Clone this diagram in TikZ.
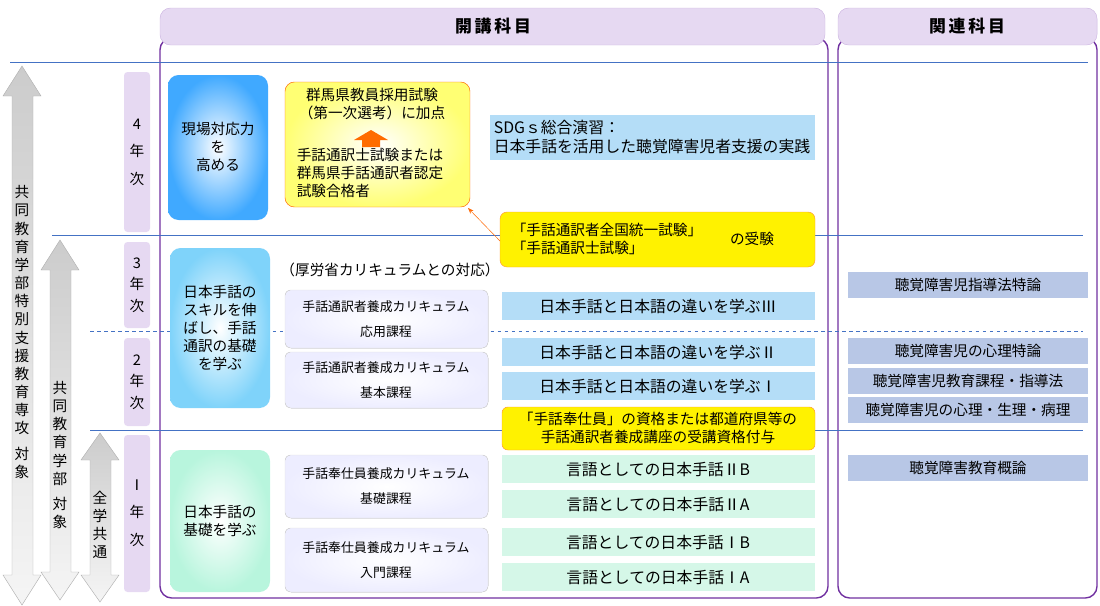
\documentclass[tikz,border=0pt]{standalone}
\usepackage{fontspec}
\setmainfont{Noto Sans CJK JP}
\usetikzlibrary{arrows.meta}
\definecolor{pur}{HTML}{7030A0}
\definecolor{lav}{HTML}{E6D9F2}
\definecolor{hl}{HTML}{4472C4}
\definecolor{bbar}{HTML}{B4DDF7}
\definecolor{gbar}{HTML}{D5F7E8}
\definecolor{rbar}{HTML}{B8C7E6}
\definecolor{lcy}{HTML}{7FD3FA}
\definecolor{lgr}{HTML}{B8F5DD}
\begin{document}
\begin{tikzpicture}[x=0.03cm,y=-0.03cm,
  hdr/.style={fill=lav,draw=lav!80!pur,rounded corners=9pt},
  yr/.style={fill=lav,draw=none,rounded corners=3pt},
  txt/.style={align=center,font=\fontsize{12.5}{15.5}\selectfont,inner sep=0pt},
  bt/.style={align=center,font=\fontsize{13.5}{16}\selectfont,inner sep=0pt},
  cur/.style={draw=gray!25,rounded corners=5pt,inner color=white,outer color=blue!7},
  ct/.style={align=center,font=\fontsize{11}{13}\selectfont,inner sep=0pt},
  hline/.style={hl,line width=0.6pt},
  arr/.style={top color=gray!40,bottom color=gray!8,draw=gray!60}]
\useasboundingbox (0,0) rectangle (1100,605);
% frames
\draw[pur,line width=1.2pt,rounded corners=10pt] (160,38) rectangle (828,598);
\draw[pur,line width=1.2pt,rounded corners=10pt] (838,38) rectangle (1097,598);
\filldraw[hdr] (838,8) rectangle (1097,45);
\filldraw[hdr] (160,8) rectangle (825,45);
\node[font=\Large\bfseries] (h1) at (493,26) {開\,講\,科\,目};
\node[font=\Large\bfseries] (h2) at (967,26) {関\,連\,科\,目};
% horizontal lines
\coordinate (l1a) at (10,62); \coordinate (l1b) at (1088,62);
\draw[hline] (l1a) -- (l1b);
\coordinate (l2a) at (52,235); \coordinate (l2b) at (1083,235);
\draw[hline] (l2a) -- (l2b);
\coordinate (l3a) at (90,331); \coordinate (l3b) at (1083,331);
\draw[hline,dashed] (l3a) -- (l3b);
\coordinate (l4a) at (90,430); \coordinate (l4b) at (1083,430);
\draw[hline] (l4a) -- (l4b);
% left arrows
\shade[arr] (12,575)--(12,96)--(3,96)--(22,66)--(41,96)--(33,96)--(33,575)--(41,575)--(22,605)--(3,575)--cycle;
\shade[arr] (50,572)--(50,270)--(41,270)--(60,240)--(79,270)--(71,270)--(71,572)--(79,572)--(60,600)--(41,572)--cycle;
\shade[arr] (90,575)--(90,460)--(81,460)--(100,433)--(119,460)--(111,460)--(111,575)--(119,575)--(100,602)--(81,575)--cycle;
\node[txt] (t1) at (22,332) {共\\同\\教\\育\\学\\部\\特\\別\\支\\援\\教\\育\\専\\攻\\[6pt]対\\象};
\node[txt] (t2) at (60,455) {共\\同\\教\\育\\学\\部\\[6pt]対\\象};
\node[txt] (t3) at (100,525) {全\\学\\共\\通};
% year pills
\filldraw[yr] (124,72) rectangle (150,232);
\filldraw[yr] (124,242) rectangle (150,328);
\filldraw[yr] (124,338) rectangle (150,426);
\filldraw[yr] (124,435) rectangle (150,592);
\node[txt] (y4) at (137,152) {4\\[8pt]年\\[8pt]次};
\node[txt] (y3) at (137,285) {3\\[3pt]年\\[3pt]次};
\node[txt] (y2) at (137,382) {2\\[3pt]年\\[3pt]次};
\node[txt] (y1) at (137,513) {Ⅰ\\[8pt]年\\[8pt]次};
% big boxes
\shade[rounded corners=9pt,inner color=white,outer color=blue!45!cyan!75!white] (168,75) rectangle (268,220);
\node[txt] (b1) at (218,147) {現場対応力\\を\\高める};
\shade[rounded corners=9pt,inner color=white,outer color=lcy] (170,248) rectangle (270,408);
\node[txt] (b2) at (220,328) {日本手話の\\スキルを伸\\ばし、手話\\通訳の基礎\\を学ぶ};
\shade[rounded corners=9pt,inner color=white,outer color=lgr] (170,450) rectangle (270,592);
\node[txt] (b3) at (220,521) {日本手話の\\基礎を学ぶ};
% yellow box
\shade[rounded corners=8pt,inner color=white,outer color=yellow!55] (285,82) rectangle (470,207);
\draw[orange!80!red,rounded corners=8pt] (285,82) rectangle (470,207);
\node[txt,align=center] (ya) at (372,104) {群馬県教員採用試験\\（第一次選考）に加点};
\node[txt,align=left] (yb) at (370,173) {手話通訳士試験または\\群馬県手話通訳者認定\\試験合格者};
\fill[orange!85!red] (362,147) rectangle (380,140) (354,140)--(371,130)--(388,140)--cycle;
% SDGs
\fill[bbar] (490,115) rectangle (815,160);
\node[bt,align=left] (sdg) at (652,137) {SDGｓ総合演習：\\日本手話を活用した聴覚障害児者支援の実践};
% exam box
\filldraw[fill=yellow,draw=orange!80,rounded corners=6pt] (500,212) rectangle (815,267);
\node[txt,align=left] (ext) at (607,239) {「手話通訳者全国統一試験」\\「手話通訳士試験」};
\node[txt] (ext2) at (752,239) {の受験};
\coordinate (ex) at (500,241);
\coordinate (yc) at (468,208);
\draw[orange!80!red,-{Stealth[length=5pt]}] (ex) -- (yc);
% curriculum
\node[txt] (kr) at (390,270) {（厚労省カリキュラムとの対応）};
\filldraw[cur] (285,290) rectangle (488,348); \node[ct] (c1) at (386,319) {手話通訳者養成カリキュラム\\[9pt]応用課程};
\filldraw[cur] (285,352) rectangle (488,408); \node[ct] (c2) at (386,380) {手話通訳者養成カリキュラム\\[9pt]基本課程};
\filldraw[cur] (285,455) rectangle (488,518); \node[ct] (c3) at (386,486) {手話奉仕員養成カリキュラム\\[9pt]基礎課程};
\filldraw[cur] (285,528) rectangle (488,592); \node[ct] (c4) at (386,560) {手話奉仕員養成カリキュラム\\[9pt]入門課程};
% bars
\fill[bbar] (502,292) rectangle (815,320); \node[bt] (m3) at (658,306) {日本手話と日本語の違いを学ぶⅢ};
\fill[bbar] (502,338) rectangle (815,366); \node[bt] (m2) at (658,352) {日本手話と日本語の違いを学ぶⅡ};
\fill[bbar] (502,372) rectangle (815,400); \node[bt] (m1) at (658,386) {日本手話と日本語の違いを学ぶⅠ};
\filldraw[fill=yellow,draw=orange!80,rounded corners=5pt] (502,407) rectangle (815,450);
\node[txt] (q) at (658,428) {「手話奉仕員」の資格または都道府県等の\\手話通訳者養成講座の受講資格付与};
\fill[gbar] (502,455) rectangle (815,483); \node[bt] (g1) at (658,469) {言語としての日本手話ⅡB};
\fill[gbar] (502,490) rectangle (815,518); \node[bt] (g2) at (658,504) {言語としての日本手話ⅡA};
\fill[gbar] (502,528) rectangle (815,556); \node[bt] (g3) at (658,542) {言語としての日本手話ⅠB};
\fill[gbar] (502,563) rectangle (815,591); \node[bt] (g4) at (658,577) {言語としての日本手話ⅠA};
\fill[rbar] (848,272) rectangle (1088,298); \node[txt] (r1) at (968,285) {聴覚障害児指導法特論};
\fill[rbar] (848,338) rectangle (1088,364); \node[txt] (r2) at (968,351) {聴覚障害児の心理特論};
\fill[rbar] (848,368) rectangle (1088,394); \node[txt] (r3) at (968,381) {聴覚障害児教育課程・指導法};
\fill[rbar] (848,397) rectangle (1088,423); \node[txt] (r4) at (968,410) {聴覚障害児の心理・生理・病理};
\fill[rbar] (848,455) rectangle (1088,481); \node[txt] (r5) at (968,468) {聴覚障害教育概論};
\end{tikzpicture}
\end{document}
